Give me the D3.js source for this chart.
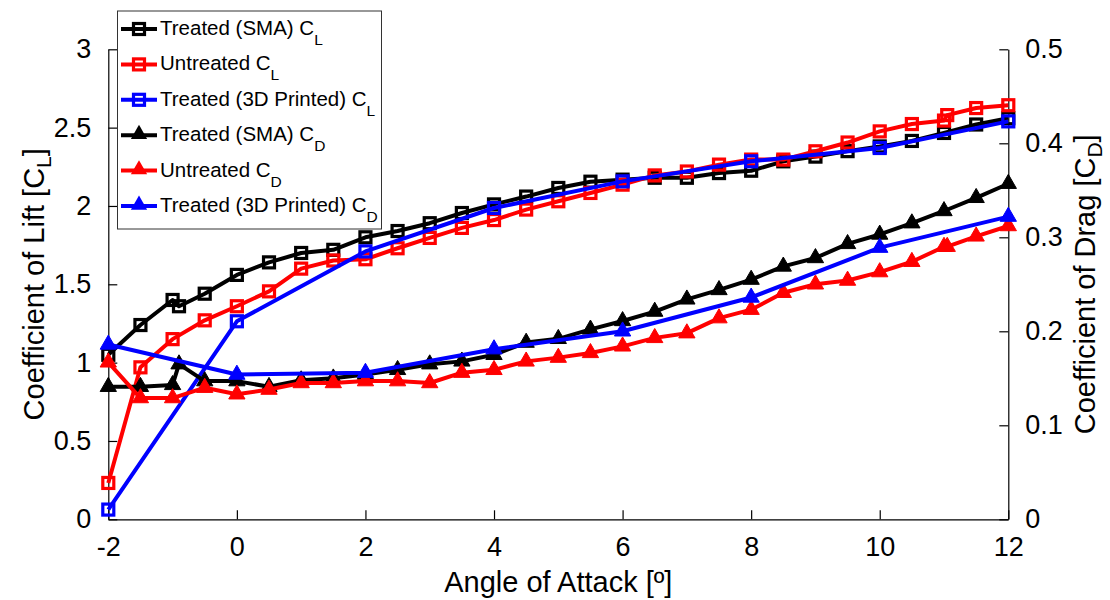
<!DOCTYPE html>
<html><head><meta charset="utf-8">
<script src="https://cdn.jsdelivr.net/npm/d3@7"></script>
<style>
body{margin:0;background:#fff;}
text{font-family:"Liberation Sans",Arial,sans-serif;fill:#000;}
</style></head>
<body><svg id="chart" width="1110" height="600"></svg>
<script>
// ---- data ----
const smaX  = [-2,-1.5,-1,-0.9,-0.5,0,0.5,1,1.5,2,2.5,3,3.5,4,4.5,5,5.5,6,6.5,7,7.5,8,8.5,9,9.5,10,10.5,11,11.5,12];
const smaCL = [1.05,1.24,1.40,1.36,1.44,1.56,1.64,1.70,1.72,1.80,1.84,1.89,1.955,2.01,2.06,2.115,2.155,2.168,2.18,2.18,2.21,2.225,2.285,2.315,2.35,2.38,2.415,2.466,2.52,2.56];
const smaCD = [0.141,0.141,0.143,0.165,0.147,0.147,0.141,0.148,0.150,0.154,0.159,0.165,0.168,0.175,0.188,0.192,0.202,0.211,0.221,0.234,0.244,0.255,0.269,0.278,0.293,0.303,0.315,0.328,0.342,0.357];
const untX  = [-2,-1.5,-1,-0.5,0,0.5,1,1.5,2,2.5,3,3.5,4,4.5,5,5.5,6,6.5,7,7.5,8,8.5,9,9.5,10,10.5,11,11.05,11.5,12];
const untCL = [0.232,0.97,1.15,1.27,1.36,1.455,1.60,1.652,1.66,1.73,1.796,1.86,1.91,1.977,2.03,2.083,2.136,2.195,2.22,2.264,2.296,2.296,2.349,2.405,2.476,2.523,2.545,2.58,2.625,2.643];
const untCD = [0.167,0.129,0.129,0.140,0.133,0.138,0.145,0.145,0.147,0.147,0.145,0.156,0.159,0.168,0.172,0.177,0.184,0.193,0.198,0.214,0.223,0.241,0.250,0.254,0.263,0.274,0.290,0.290,0.301,0.312];
const prtX  = [-2,0,2,4,6,8,10,12];
const prtCL = [0.062,1.264,1.71,1.987,2.157,2.285,2.37,2.54];
const prtCD = [0.186,0.154,0.156,0.181,0.200,0.236,0.289,0.322];
const xTicks = [-2,0,2,4,6,8,10,12];
const yLTicks = [0,0.5,1,1.5,2,2.5,3];
const yRTicks = [0,0.1,0.2,0.3,0.4,0.5];
const seriesNames = ["Treated (SMA) C","Untreated C","Treated (3D Printed) C","Treated (SMA) C","Untreated C","Treated (3D Printed) C"];
const seriesSubs = ["L","L","L","D","D","D"];

// ---- layout ----
const L = 108.3, R = 1008.3, T = 49.3, B = 519.3;
const svg = d3.select("#chart");
const x = d3.scaleLinear().domain([-2,12]).range([L,R]);
const yL = d3.scaleLinear().domain([0,3]).range([B,T]);
const yR = d3.scaleLinear().domain([0,0.5]).range([B,T]);

const series = [
  {xs:smaX, ys:smaCL, y:yL, color:"#000", marker:"square"},
  {xs:untX, ys:untCL, y:yL, color:"#ff0000", marker:"square"},
  {xs:prtX, ys:prtCL, y:yL, color:"#0000ff", marker:"square"},
  {xs:smaX, ys:smaCD, y:yR, color:"#000", marker:"triangle"},
  {xs:untX, ys:untCD, y:yR, color:"#ff0000", marker:"triangle"},
  {xs:prtX, ys:prtCD, y:yR, color:"#0000ff", marker:"triangle"}
];

// axes
const fs = 27;
const ax = svg.append("g").attr("transform",`translate(0,${B})`)
  .call(d3.axisBottom(x).tickValues(xTicks).tickSizeInner(-9).tickSizeOuter(0).tickPadding(18).tickFormat(d=>String(d)));
const ayl = svg.append("g").attr("transform",`translate(${L},0)`)
  .call(d3.axisLeft(yL).tickValues(yLTicks).tickSizeInner(-9).tickSizeOuter(0).tickPadding(17).tickFormat(d=>String(d)));
const ayr = svg.append("g").attr("transform",`translate(${R},0)`)
  .call(d3.axisRight(yR).tickValues(yRTicks).tickSizeInner(-9).tickSizeOuter(0).tickPadding(17).tickFormat(d=>d===0?"0":d3.format(".1f")(d)));
[ax,ayl,ayr].forEach(g=>{
  g.selectAll("path").attr("stroke","#000").attr("stroke-width",1.2);
  g.selectAll("line").attr("stroke","#000").attr("stroke-width",1.2);
  g.selectAll("text").attr("font-size",fs).attr("font-family","Liberation Sans, Arial, sans-serif").attr("fill","#000");
});

// series
const line = (s)=>d3.line().x((d,i)=>x(s.xs[i])).y(d=>s.y(d));
const tri = d3.symbol().type(d3.symbolTriangle).size(115);
series.forEach(s=>{
  const g = svg.append("g");
  g.append("path").attr("d", line(s)(s.ys)).attr("fill","none").attr("stroke",s.color).attr("stroke-width",4).attr("stroke-linejoin","round");
  s.ys.forEach((v,i)=>{
    const cx = x(s.xs[i]), cy = s.y(v);
    if(s.marker==="square"){
      g.append("rect").attr("x",cx-5.5).attr("y",cy-5.5).attr("width",11).attr("height",11)
        .attr("fill","none").attr("stroke",s.color).attr("stroke-width",3.2);
    } else {
      g.append("path").attr("d",tri()).attr("transform",`translate(${cx},${cy})`).attr("fill",s.color).attr("stroke",s.color).attr("stroke-width",1);
    }
  });
});

// axis titles
function subTitle(g, main, sub, close){
  const t = g.append("text").attr("text-anchor","middle").attr("font-size",29);
  t.append("tspan").text(main);
  t.append("tspan").text(sub).attr("font-size",21).attr("dy",7);
  t.append("tspan").text(close).attr("dy",-7);
  return t;
}
svg.append("text").attr("x",(L+R)/2).attr("y",592).attr("text-anchor","middle").attr("font-size",29).text("Angle of Attack [º]");
subTitle(svg.append("g").attr("transform",`translate(44,${(T+B)/2}) rotate(-90)`),"Coefficient of Lift [C","L","]");
subTitle(svg.append("g").attr("transform",`translate(1095,${(T+B)/2}) rotate(-90)`),"Coefficient of Drag [C","D","]");

// legend
const lg = svg.append("g");
lg.append("rect").attr("x",117.5).attr("y",11).attr("width",264).attr("height",218).attr("fill","#fff").attr("stroke","#333").attr("stroke-width",1);
series.forEach((s,i)=>{
  const cy = 27 + i*35.4;
  lg.append("line").attr("x1",121).attr("x2",157).attr("y1",cy+2).attr("y2",cy+2).attr("stroke",s.color).attr("stroke-width",4);
  if(s.marker==="square"){
    lg.append("rect").attr("x",139-5.5).attr("y",cy+2-5.5).attr("width",11).attr("height",11).attr("fill","none").attr("stroke",s.color).attr("stroke-width",3.2);
  } else {
    lg.append("path").attr("d",tri()).attr("transform",`translate(139,${cy+1})`).attr("fill",s.color);
  }
  const t = lg.append("text").attr("x",160).attr("y",cy+8).attr("font-size",20.5);
  t.append("tspan").text(seriesNames[i]);
  t.append("tspan").text(seriesSubs[i]).attr("font-size",15.5).attr("dy",10);
});
</script>
</body></html>
